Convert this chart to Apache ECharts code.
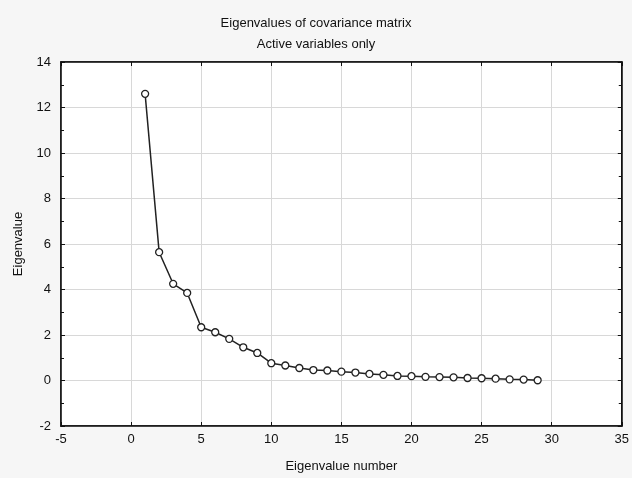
<!DOCTYPE html>
<html>
<head>
<meta charset="utf-8">
<script src="https://cdn.jsdelivr.net/npm/echarts@6/dist/echarts.min.js"></script>
<style>
  html, body { margin: 0; padding: 0; background: #f6f6f6; }
  #chart { width: 632px; height: 478px; }
</style>
</head>
<body>
<div id="chart"></div>
<script>
// eigenvalue index and value
const numbers = [1, 2, 3, 4, 5, 6, 7, 8, 9, 10, 11, 12, 13, 14, 15, 16, 17, 18, 19, 20, 21, 22, 23, 24, 25, 26, 27, 28, 29]
const eigenvalues = [12.6, 5.64, 4.25, 3.85, 2.34, 2.12, 1.83, 1.46, 1.21, 0.76, 0.66, 0.55, 0.46, 0.44, 0.39, 0.35, 0.29, 0.25, 0.2, 0.19, 0.16, 0.15, 0.14, 0.11, 0.1, 0.08, 0.05, 0.04, 0.01]

const chart = echarts.init(document.getElementById('chart'))
const font = 'Liberation Sans, Arial, sans-serif'

const axisLine = { show: true, onZero: false, lineStyle: { color: '#111', width: 1.5 } }
const axisTick = { show: true, inside: true, length: 4, lineStyle: { color: '#111' } }

chart.setOption({
  backgroundColor: '#f6f6f6',
  animation: false,
  title: {
    text: 'Eigenvalues of covariance matrix\nActive variables only',
    left: 'center',
    top: 8,
    textStyle: {
      fontFamily: font,
      fontSize: 13,
      fontWeight: 'normal',
      color: '#111',
      lineHeight: 21,
    },
  },
  grid: {
    left: 61,
    right: 9,
    top: 62,
    bottom: 51,
    show: true,
    backgroundColor: '#fff',
    borderColor: '#111',
    borderWidth: 1.5,
  },
  xAxis: [
    {
      type: 'value',
      min: -5,
      max: 35,
      interval: 5,
      name: 'Eigenvalue number',
      nameLocation: 'middle',
      nameGap: 34,
      nameTextStyle: { fontFamily: font, fontSize: 13, color: '#111' },
      axisLine,
      axisTick,
      axisLabel: { fontFamily: font, fontSize: 13, color: '#111', margin: 7 },
      splitLine: { show: true, lineStyle: { color: '#d8d8d8' } },
    },
    {
      type: 'value',
      position: 'top',
      min: -5,
      max: 35,
      interval: 5,
      axisLine,
      axisTick,
      axisLabel: { show: false },
      splitLine: { show: false },
    },
  ],
  yAxis: [
    {
      type: 'value',
      min: -2,
      max: 14,
      interval: 2,
      name: 'Eigenvalue',
      nameLocation: 'middle',
      nameGap: 36,
      nameTextStyle: { fontFamily: font, fontSize: 13, color: '#111' },
      axisLine,
      axisTick,
      minorTick: { show: true, splitNumber: 2, length: 3, lineStyle: { color: '#111' } },
      axisLabel: { fontFamily: font, fontSize: 13, color: '#111', margin: 10 },
      splitLine: { show: true, lineStyle: { color: '#d8d8d8' } },
    },
    {
      type: 'value',
      position: 'right',
      min: -2,
      max: 14,
      interval: 2,
      axisLine,
      axisTick,
      minorTick: { show: true, splitNumber: 2, length: 3, lineStyle: { color: '#111' } },
      axisLabel: { show: false },
      splitLine: { show: false },
    },
  ],
  series: [
    {
      type: 'line',
      data: numbers.map((n, i) => [n, eigenvalues[i]]),
      symbol: 'circle',
      symbolSize: 7,
      showAllSymbol: true,
      lineStyle: { color: '#222', width: 1.5 },
      itemStyle: { color: '#fff', borderColor: '#222', borderWidth: 1.3 },
    },
  ],
})
</script>
</body>
</html>
